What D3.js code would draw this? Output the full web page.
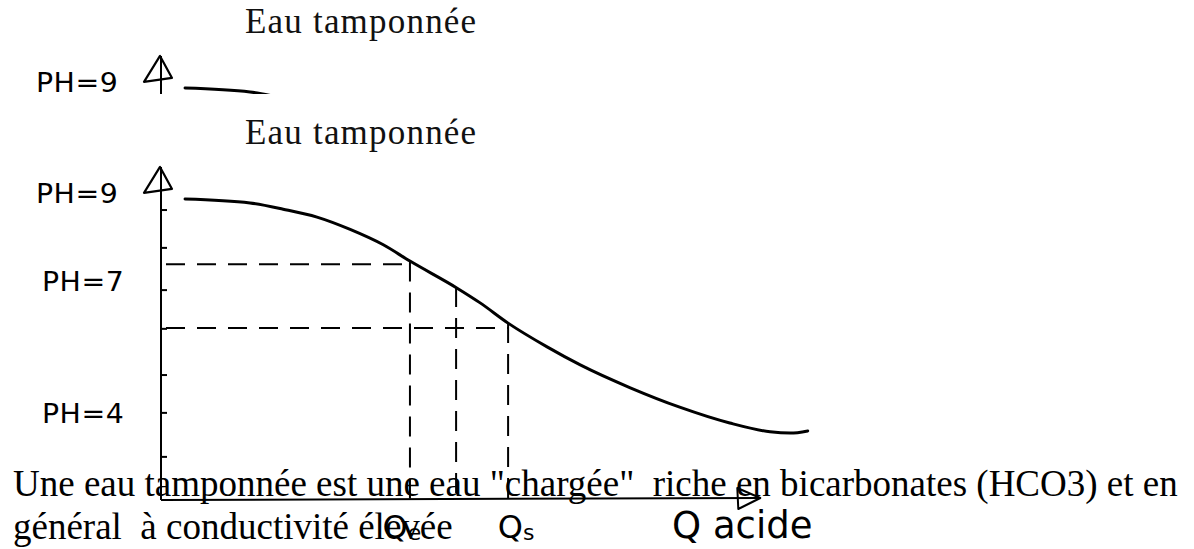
<!DOCTYPE html>
<html>
<head>
<meta charset="utf-8">
<script src="https://cdn.jsdelivr.net/npm/d3@7"></script>
<style>
 body { margin: 0; background: #fff; }
 svg { display: block; }
</style>
</head>
<body>
<div id="chart"></div>
<script>
// Eau tamponnée - courbe pH / quantité d'acide

// data
var curveQ  = [3.7, 13.7, 18.8, 24.0, 29.1, 34.2, 38.3, 45.5, 49.1, 53.4, 59.4, 64.5, 72.2, 79.8, 87.5, 93.7, 96.8, 99.5];
var curvePH = [8.84, 8.75, 8.61, 8.43, 8.15, 7.80, 7.43, 6.82, 6.48, 6.02, 5.48, 5.07, 4.55, 4.11, 3.75, 3.55, 3.52, 3.57];

var phTicks = [8.59, 7.73, 6.77, 5.89, 4.84, 3.98, 2.98];
var phLabels = ["PH=9", "PH=7", "PH=4"];
var phLabelVals = [9, 7, 4];

var refQ  = [38.3, 45.4, 53.4];   // verticales pointillées
var refPH = [7.42, 6.84, 6.02];   // point haut (sur la courbe)
var levelPH = [7.36, 5.91];       // horizontales pointillées
var levelQ  = [38.3, 53.4];

var qNames = ["Q", "Q"];
var qSubs  = ["e", "s"];
var qAt    = [38.3, 53.4];

var title = "Eau tamponnée";
var textLines = ["Une eau tamponnée est une eau \"chargée\"  riche en bicarbonates (HCO3) et en",
                 "général  à conductivité élevée"];

var w = 1194;
var h = 549;

var x = d3.scaleLinear().domain([0, 100]).range([161, 811]);
var y = d3.scaleLinear().domain([2, 9]).range([500, 192]);

var svg = d3.select("#chart")
 .append("svg")
 .attr("width", w)
 .attr("height", h);

svg.append("rect").attr("width", w).attr("height", h).attr("fill", "#fff");

var hand = "'DejaVu Sans', sans-serif";

function drawChart(g) {
 // titre
 g.append("text")
  .text(title)
  .attr("x", 245)
  .attr("y", 144)
  .attr("font-family", "'Liberation Serif', 'Times New Roman', serif")
  .attr("font-size", "35px")
  .attr("letter-spacing", "1.2px")
  .attr("fill", "#111");

 // axe vertical
 g.append("line")
  .attr("x1", x(0)).attr("x2", x(0))
  .attr("y1", y(9.57)).attr("y2", y(2))
  .attr("stroke", "#000").attr("stroke-width", 2);
 g.append("path")
  .attr("d", "M0,0 L-16,26 L12,22 Z")
  .attr("transform", "translate(" + (x(0) - 1) + "," + y(9.57) + ")")
  .attr("fill", "none").attr("stroke", "#000").attr("stroke-width", 2.2)
  .attr("stroke-linejoin", "round");

 // graduations
 g.selectAll(".tick")
  .data(phTicks)
  .enter()
  .append("line")
  .attr("x1", x(0)).attr("x2", x(0) + 6)
  .attr("y1", function(d) { return y(d); })
  .attr("y2", function(d) { return y(d); })
  .attr("stroke", "#000").attr("stroke-width", 2);

 // libellés pH
 g.selectAll(".phlab")
  .data(phLabels)
  .enter()
  .append("text")
  .text(function(d) { return d; })
  .attr("x", function(d, i) { return i == 0 ? 36 : 42; })
  .attr("y", function(d, i) { return y(phLabelVals[i]) + 11; })
  .attr("font-family", hand)
  .attr("font-size", "27px")
  .attr("letter-spacing", "0.5px")
  .attr("transform", function(d, i) {
   var px = i == 0 ? 36 : 42;
   return "translate(" + px + ",0) scale(1.05,1) translate(" + (-px) + ",0)";
  })
  .attr("fill", "#000");

 // axe horizontal
 g.append("line")
  .attr("x1", x(0)).attr("x2", x(92.2))
  .attr("y1", y(2)).attr("y2", y(2) - 2)
  .attr("stroke", "#000").attr("stroke-width", 2);
 g.append("path")
  .attr("d", "M0,0 L-23,-10 L-22,11 Z")
  .attr("transform", "translate(" + x(92.2) + "," + (y(2) - 2) + ")")
  .attr("fill", "none").attr("stroke", "#000").attr("stroke-width", 2)
  .attr("stroke-linejoin", "round");

 // pointillés horizontaux
 g.selectAll(".hdash")
  .data(levelPH)
  .enter()
  .append("line")
  .attr("x1", x(0) + 5)
  .attr("x2", function(d, i) { return x(levelQ[i]); })
  .attr("y1", function(d) { return y(d); })
  .attr("y2", function(d) { return y(d); })
  .attr("stroke", "#000").attr("stroke-width", 2)
  .attr("stroke-dasharray", "19,12");

 // pointillés verticaux
 g.selectAll(".vdash")
  .data(refQ)
  .enter()
  .append("line")
  .attr("x1", function(d) { return x(d); })
  .attr("x2", function(d) { return x(d); })
  .attr("y1", function(d, i) { return y(refPH[i]); })
  .attr("y2", y(2))
  .attr("stroke", "#000").attr("stroke-width", 2)
  .attr("stroke-dasharray", "20,11");

 // courbe
 var line = d3.line()
  .x(function(d) { return x(d); })
  .y(function(d, i) { return y(curvePH[i]); })
  .curve(d3.curveMonotoneX);
 g.append("path")
  .attr("d", line(curveQ))
  .attr("fill", "none")
  .attr("stroke", "#000")
  .attr("stroke-width", 3)
  .attr("stroke-linecap", "round");

 // Qe, Qs
 var ql = g.selectAll(".qlab")
  .data(qNames)
  .enter()
  .append("text")
  .attr("x", function(d, i) { return x(qAt[i]) + (i == 0 ? -8 : 8); })
  .attr("y", 538)
  .attr("text-anchor", "middle")
  .attr("font-family", hand)
  .attr("font-size", "32px")
  .attr("fill", "#000");
 ql.append("tspan").text(function(d) { return d; });
 ql.append("tspan")
  .text(function(d, i) { return qSubs[i]; })
  .attr("font-size", "22px")
  .attr("dy", 2);

 g.append("text")
  .text("Q acide")
  .attr("x", 672)
  .attr("y", 538)
  .attr("font-family", hand)
  .attr("font-size", "37px")
  .attr("fill", "#000");
}

// figure complète
drawChart(svg.append("g"));

// copie tronquée en haut de page
svg.append("clipPath")
 .attr("id", "cut")
 .append("rect")
 .attr("x", 0).attr("y", 100)
 .attr("width", w).attr("height", 105);
var topCopy = svg.append("g")
 .attr("transform", "translate(0,-111)")
 .attr("clip-path", "url(#cut)");
drawChart(topCopy);

// texte du document
svg.selectAll(".para")
 .data(textLines)
 .enter()
 .append("text")
 .text(function(d) { return d; })
 .attr("x", 13)
 .attr("y", function(d, i) { return 496 + i * 43; })
 .attr("font-family", "'Liberation Serif', 'Times New Roman', serif")
 .attr("font-size", "37px")
 .style("white-space", "pre")
 .attr("fill", "#000");
</script>
</body>
</html>
